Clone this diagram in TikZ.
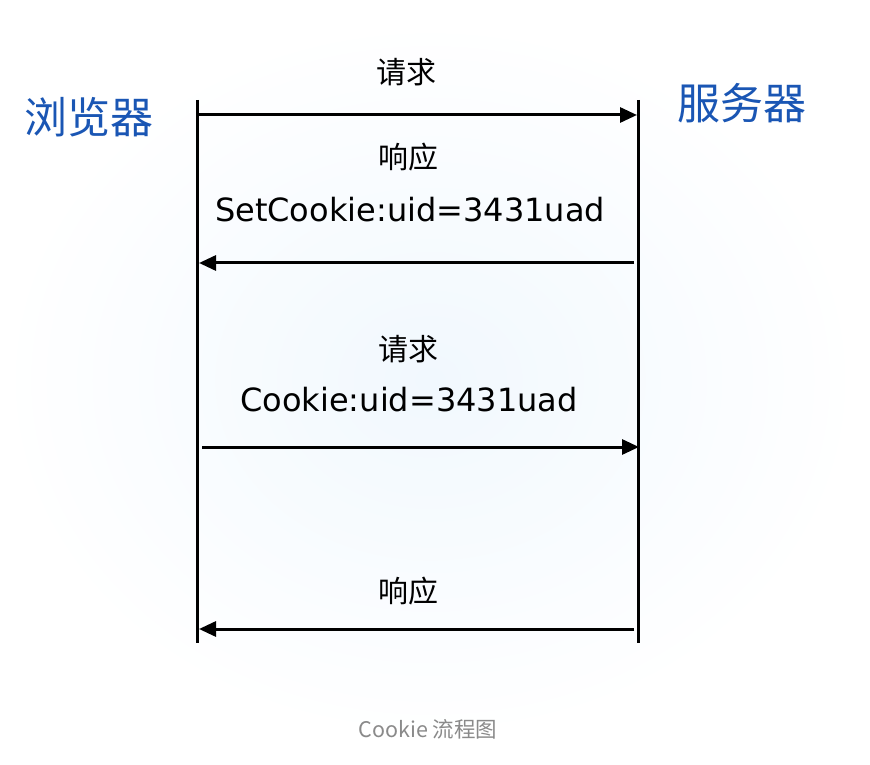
\documentclass[tikz,border=0pt]{standalone}
\usepackage{fontspec}
\setmainfont{DejaVu Sans}
\newfontfamily\cjk{Noto Sans CJK SC}
\usetikzlibrary{arrows.meta}
\definecolor{ttlblue}{HTML}{1A56B4}
\definecolor{glow}{HTML}{F1F8FE}
\definecolor{capgray}{HTML}{8A8A8A}
\tikzset{
  life/.style={line width=3pt},
  msg/.style={line width=3pt,-{Triangle[length=17pt,width=15pt]}},
  ttl/.style={text=ttlblue,font=\cjk\fontsize{43}{48}\selectfont,inner sep=0pt},
  lbl/.style={font=\cjk\fontsize{30}{34}\selectfont,inner sep=0pt},
  code/.style={font=\fontsize{32}{38}\selectfont,inner sep=0pt},
  captxt/.style={text=capgray,font=\cjk\fontsize{21.5}{24}\selectfont,inner sep=0pt}
}
\begin{document}
\begin{tikzpicture}[x=1pt,y=1pt]
\useasboundingbox (0,0) rectangle (870,764);
\fill[white] (0,0) rectangle (870,764);
\shade[inner color=glow,outer color=white] (430,384) ellipse (430 and 360);
% lifelines
\coordinate (b1) at (197,664);
\coordinate (b2) at (197,121);
\coordinate (s1) at (638,664);
\coordinate (s2) at (638,121);
\draw[life] (b1) -- (b2);
\draw[life] (s1) -- (s2);
% message endpoints
\coordinate (m1a) at (198,649);
\coordinate (m1b) at (637,649);
\coordinate (m2a) at (634,501);
\coordinate (m2b) at (199,501);
\coordinate (m3a) at (202,317);
\coordinate (m3b) at (639,317);
\coordinate (m4a) at (634,135);
\coordinate (m4b) at (199,135);
\draw[msg] (m1a) -- (m1b);
\draw[msg] (m2a) -- (m2b);
\draw[msg] (m3a) -- (m3b);
\draw[msg] (m4a) -- (m4b);
% titles
\node[ttl] (browser) at (89,647) {浏览器};
\node[ttl] (server) at (742,661) {服务器};
% labels
\node[lbl] (req1) at (406,692) {请求};
\node[lbl] (res1) at (408,607) {响应};
\node[code] (set) at (410,554) {SetCookie:uid=3431uad};
\node[lbl] (req2) at (408,415) {请求};
\node[code] (ck) at (409,364) {Cookie:uid=3431uad};
\node[lbl] (res2) at (408,173) {响应};
\node[captxt] (caption) at (428,35) {Cookie 流程图};
\end{tikzpicture}
\end{document}
